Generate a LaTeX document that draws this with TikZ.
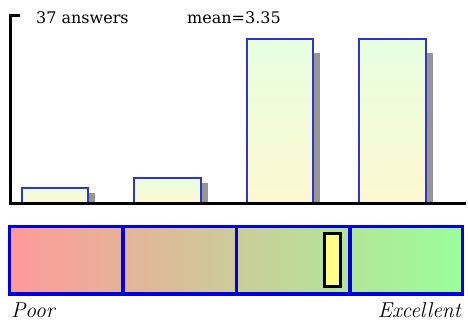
\documentclass[tikz,border=0pt]{standalone}
\usepackage{fontspec}
\newfontfamily\topfont{DejaVu Serif}
\definecolor{barborder}{RGB}{50,50,210}
\definecolor{bartop}{RGB}{230,255,225}
\definecolor{barbot}{RGB}{255,248,208}
\definecolor{shadowgray}{RGB}{150,150,150}
\definecolor{scaleblue}{RGB}{0,0,225}
\definecolor{poorred}{RGB}{255,153,153}
\definecolor{goodgreen}{RGB}{153,255,153}
\definecolor{markeryellow}{RGB}{255,255,136}
\tikzset{
  barfill/.style={top color=bartop, bottom color=barbot},
  barline/.style={draw=barborder, line width=1.2pt},
  axisline/.style={line width=3pt, black},
  scaleline/.style={line width=3.5pt, scaleblue},
  toptext/.style={font=\topfont\fontsize{16}{19}\selectfont, anchor=base west, inner sep=0pt},
  labeltext/.style={font=\fontsize{21.5}{25}\selectfont\itshape, anchor=base, inner sep=0pt},
}
\begin{document}
\begin{tikzpicture}[x=1pt,y=-1pt]
\useasboundingbox (0,0) rectangle (468,323);
% shadows
\fill[shadowgray] (88,193) rectangle (95,203);
\fill[shadowgray] (201,183) rectangle (208,203);
\fill[shadowgray] (313,53) rectangle (320,203);
\fill[shadowgray] (426,53) rectangle (433,203);
% bars
\shade[barfill] (22,188) rectangle (88,203);
\shade[barfill] (134,178) rectangle (201,203);
\shade[barfill] (247,39) rectangle (313,203);
\shade[barfill] (359,39) rectangle (426,203);
\draw[barline] (22,188) rectangle (88,203);
\draw[barline] (134,178) rectangle (201,203);
\draw[barline] (247,39) rectangle (313,203);
\draw[barline] (359,39) rectangle (426,203);
% axis
\draw[axisline] (20,16) -- (10,16) -- (10,203) -- (466,203);
% texts
\node[toptext] (answers) at (36,24) {37 answers};
\node[toptext] (mean) at (187,24) {mean=3.35};
% scale
\shade[left color=poorred, right color=goodgreen] (9.5,226.5) rectangle (462.5,294);
\draw[scaleline] (9.5,226.5) rectangle (462.5,294);
\draw[scaleline] (123,226.5) -- (123,294);
\draw[scaleline] (236.5,226.5) -- (236.5,294);
\draw[scaleline] (350,226.5) -- (350,294);
% marker
\draw[line width=2.8pt, fill=markeryellow] (324.5,233.5) rectangle (340.5,286.5);
% labels
\node[labeltext, anchor=base west] (poor) at (11,317) {Poor};
\node[labeltext, anchor=base east] (excellent) at (461,317) {Excellent};
\end{tikzpicture}
\end{document}
